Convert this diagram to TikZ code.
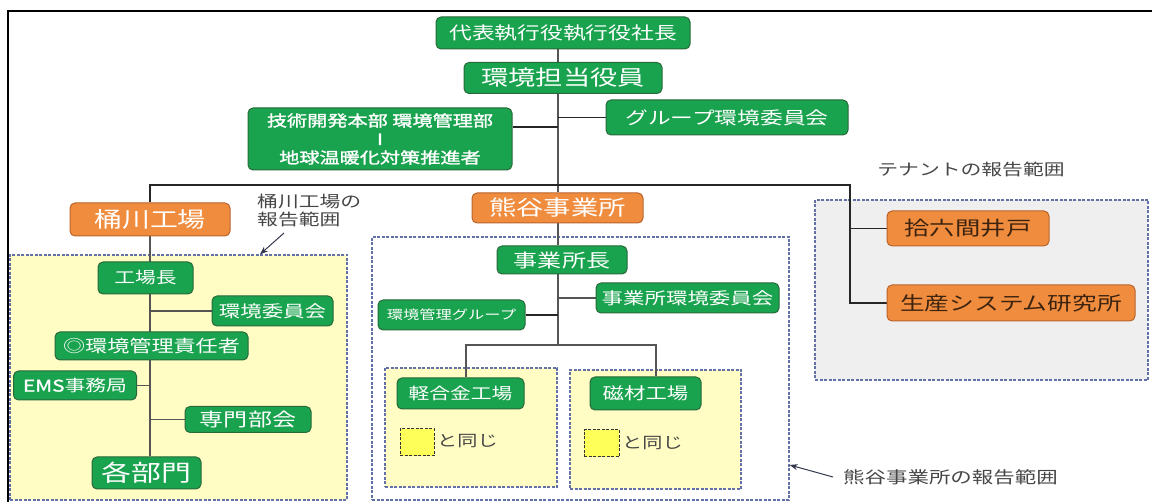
\documentclass[tikz,border=0pt]{standalone}
\usepackage{fontspec}
\setmainfont{Noto Sans CJK JP}[FakeStretch=1.3]
\newfontfamily\jpbold{Noto Sans CJK JP}[FakeStretch=1.3,FakeBold=1.6]
\usetikzlibrary{arrows.meta,calc}
\pgfdeclarelayer{bg}\pgfdeclarelayer{lines}\pgfsetlayers{bg,lines,main}
\definecolor{gfill}{RGB}{26,163,78}
\definecolor{gdraw}{RGB}{40,105,58}
\definecolor{ofill}{RGB}{240,140,62}
\definecolor{odraw}{RGB}{185,100,45}
\definecolor{tentext}{RGB}{60,35,15}
\definecolor{yfill}{RGB}{255,252,196}
\definecolor{sqfill}{RGB}{255,255,90}
\definecolor{regline}{RGB}{100,112,168}
\definecolor{tfill}{RGB}{239,239,239}
\definecolor{lcol}{RGB}{85,85,85}
\definecolor{labcol}{RGB}{70,70,70}
\definecolor{arrcol}{RGB}{50,55,75}
\newcommand{\fsz}[1]{\fontsize{#1pt}{#1pt}\selectfont}
\begin{document}
\begin{tikzpicture}[x=1pt,y=-1pt,
  gbox/.style={draw=gdraw, fill=gfill, rounded corners=5pt, line width=1pt, text=white, inner sep=0pt},
  obox/.style={draw=odraw, fill=ofill, rounded corners=5pt, line width=1pt, text=white, inner sep=0pt},
  tbox/.style={obox, text=tentext},
  region/.style={draw=regline, dash pattern=on 3pt off 1.5pt, line width=1.3pt, inner sep=0pt},
  sqbox/.style={draw=black!80, fill=sqfill, dash pattern=on 3pt off 1.5pt, line width=1pt, inner sep=0pt},
  conn/.style={draw=lcol, line width=1.7pt},
  hconn/.style={draw=black!85, line width=1.3pt},
  lbl/.style={text=labcol, inner sep=0pt},
  arr/.style={draw=arrcol, line width=1pt, -{Stealth[length=8pt,width=6pt]}}]
\useasboundingbox (0,0) rectangle (1152,502);
\draw[line width=2pt] (1152,11) -- (8,11) -- (8,502);

% regions
\begin{pgfonlayer}{bg}
\node[region, fill=yfill, minimum width=337, minimum height=245] (okereg) at (178.5,377.5) {};
\node[region, fill=white, minimum width=417, minimum height=263] (kumreg) at (580.5,368.5) {};
\node[region, fill=yfill, minimum width=172, minimum height=119] (keireg) at (471,427.5) {};
\node[region, fill=yfill, minimum width=171, minimum height=119] (jizreg) at (655.5,429.5) {};
\node[region, fill=tfill, minimum width=333, minimum height=180] (tenreg) at (981.5,290) {};
\node[sqbox, minimum width=34, minimum height=27] (sq1) at (417,442.5) {};
\node[sqbox, minimum width=35, minimum height=27] (sq2) at (601.5,443.5) {};
\end{pgfonlayer}

% boxes
\node[gbox, minimum width=254, minimum height=32, font=\fsz{17.5}] (dai) at (563,33) {代表執行役執行役社長};
\node[gbox, minimum width=198, minimum height=31, font=\fsz{21}] (kank) at (563,78) {環境担当役員};
\node[gbox, minimum width=242, minimum height=35, font=\fsz{17.5}] (grp) at (727,117.5) {グループ環境委員会};
\node[gbox, minimum width=264, minimum height=62, align=center, font=\jpbold\fontsize{15.5pt}{18.5pt}\selectfont] (gij) at (380,139) {技術開発本部 環境管理部\\I\\地球温暖化対策推進者};
\node[obox, minimum width=160, minimum height=33, font=\fsz{21.5}] (oke) at (150,219.5) {桶川工場};
\node[obox, minimum width=171, minimum height=30, font=\fsz{21}] (kum) at (557.5,208) {熊谷事業所};
\node[gbox, minimum width=130, minimum height=28, font=\fsz{18.5}] (jcho) at (562,260) {事業所長};
\node[gbox, minimum width=183, minimum height=30, font=\fsz{16.5}] (jiin) at (687.5,298) {事業所環境委員会};
\node[gbox, minimum width=147, minimum height=30, font=\fsz{12.5}] (kkg) at (451.5,315) {環境管理グループ};
\node[gbox, minimum width=127, minimum height=31, font=\fsz{16}] (kei) at (460.5,393.5) {軽合金工場};
\node[gbox, minimum width=111, minimum height=33, font=\fsz{16.5}] (jiz) at (645.5,393.5) {磁材工場};
\node[gbox, minimum width=95, minimum height=32, font=\fsz{16}] (koujou) at (145.5,278) {工場長};
\node[gbox, minimum width=121, minimum height=30, font=\fsz{16.5}] (kiin) at (272.5,311) {環境委員会};
\node[gbox, minimum width=193, minimum height=28, font=\fsz{17}] (kanri) at (151.5,346) {◎環境管理責任者};
\node[gbox, minimum width=123, minimum height=29, font=\fsz{16}] (ems) at (75,385.5) {{\jpbold EMS}事務局};
\node[gbox, minimum width=126, minimum height=26, font=\fsz{18.5}] (senmon) at (248,419.5) {専門部会};
\node[gbox, minimum width=109, minimum height=32, font=\fsz{23}] (kakubu) at (146.5,473) {各部門};
\node[tbox, minimum width=162, minimum height=35, font=\fsz{19.5}] (juroku) at (968,228.5) {拾六間井戸};
\node[tbox, minimum width=248, minimum height=36, font=\fsz{19}] (seisan) at (1011,303) {生産システム研究所};

% labels
\node[lbl, anchor=north west, align=left, font=\fontsize{16pt}{17.5pt}\selectfont] (okelab) at (257,194) {桶川工場の\\報告範囲};
\node[lbl, font=\fsz{16}] (tenlab) at (971,169) {テナントの報告範囲};
\node[lbl, anchor=west, font=\fsz{16.5}] (kumlab) at (843,477) {熊谷事業所の報告範囲};
\node[lbl, anchor=west, font=\fsz{15.5}] (same1) at (437,441) {と同じ};
\node[lbl, anchor=west, font=\fsz{15.5}] (same2) at (622,443) {と同じ};

% connectors
\coordinate (t0) at (558,185);
\coordinate (hr) at (850,185);
\coordinate (j2) at (558,345);
\coordinate (kl) at (466,345);
\coordinate (kr) at (656,345);
\coordinate (gc) at ($(gij.east)+(0,-12)$);
\coordinate (a1) at (284,233);
\coordinate (a1x) at (260,0);
\coordinate (a2) at (833,477);
\coordinate (a2y) at (0,465);
\begin{pgfonlayer}{lines}
\draw[conn] (dai.south -| t0) -- (kum.north -| t0);
\draw[hconn] (oke.north) |- (hr) |- (seisan.west);
\draw[hconn] (hr |- juroku.west) -- (juroku.west);
\draw[hconn] (gc) -- (gc -| t0);
\draw[hconn] (grp.west) -- (grp.west -| t0);
\draw[conn] (kum.south -| t0) -- (jcho.north -| t0);
\draw[conn] (jcho.south -| t0) -- (j2);
\draw[conn] (jiin.west) -- (jiin.west -| t0);
\draw[hconn] (kkg.east) -- (kkg.east -| t0);
\draw[conn] (kei.north -| kl) -- (kl) -- (kr) -- (jiz.north -| kr);
\draw[conn] (oke.south) -- (kakubu.north -| oke.south);
\draw[conn] (kiin.west) -- (kiin.west -| oke.south);
\draw[conn] (ems.east) -- (ems.east -| oke.south);
\draw[conn] (senmon.west) -- (senmon.west -| oke.south);
\end{pgfonlayer}
\draw[arr] (a1) -- (okereg.north -| a1x);
\draw[arr] (a2) -- (kumreg.east |- a2y);
\end{tikzpicture}
\end{document}
